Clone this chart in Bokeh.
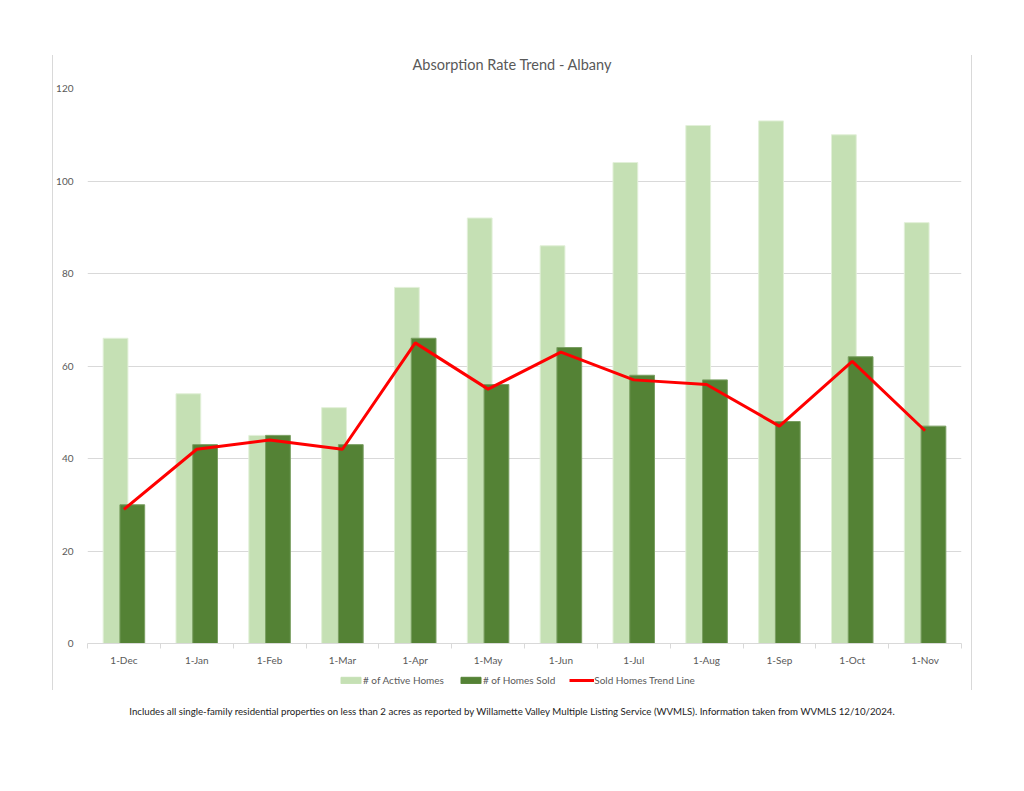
import numpy as np
from bokeh.plotting import figure
from bokeh.layouts import column
from bokeh.models import (ColumnDataSource, FixedTicker, Legend, LegendItem, Div, Range1d)
from bokeh.transform import dodge
from bokeh.embed import file_html
from bokeh.resources import INLINE

months = ["1-Dec", "1-Jan", "1-Feb", "1-Mar", "1-Apr", "1-May", "1-Jun",
          "1-Jul", "1-Aug", "1-Sep", "1-Oct", "1-Nov"]
active_homes = [66, 54, 45, 51, 77, 92, 86, 104, 112, 113, 110, 91]
homes_sold = [30, 43, 45, 43, 66, 56, 64, 58, 57, 48, 62, 47]
trend_line = [29, 42, 44, 42, 65, 55, 63, 57, 56, 47, 61, 46]
y_ticks = [0, 20, 40, 60, 80, 100, 120]

FONT = "Lato"
GRAY = "#595959"
LIGHT = "#c5e0b4"
DARK = "#548235"
RED = "#ff0000"
BORDER = {"border-left": "1px solid #d9d9d9", "border-right": "1px solid #d9d9d9",
          "box-sizing": "border-box"}

xpos = np.arange(len(months)) + 0.5
src = ColumnDataSource(dict(x=xpos, active=active_homes, sold=homes_sold, trend=trend_line))

# title strip
title_div = Div(text="Absorption Rate Trend - Albany", width=920, height=25,
                styles=dict(BORDER, **{"text-align": "center", "font-family": FONT,
                                       "font-size": "14.5px", "color": GRAY,
                                       "line-height": "17px", "padding-top": "1px"}))
title_div.margin = (55, 0, 0, 52)

p = figure(width=920, height=588, output_backend="svg", toolbar_location=None,
           title=None,
           x_range=Range1d(0, len(months)), y_range=Range1d(0, 120),
           min_border_left=32, min_border_right=12, min_border_top=8,
           min_border_bottom=24, background_fill_color="white",
           border_fill_color="white")
p.margin = (0, 0, 0, 52)
p.styles = BORDER
p.outline_line_color = None

bw = 0.34
r1 = p.vbar(x=dodge("x", -0.115, range=p.x_range), top="active", width=bw, bottom=0,
            source=src, fill_color=LIGHT, line_color="#e2f0d9", line_width=1)
r2 = p.vbar(x=dodge("x", 0.115, range=p.x_range), top="sold", width=bw, bottom=0,
            source=src, fill_color=DARK, line_color="#7a9f62", line_width=1)
r3 = p.line(x="x", y="trend", source=src, line_color=RED, line_width=3)

# axes
p.xaxis.ticker = FixedTicker(ticks=list(xpos), minor_ticks=list(range(len(months) + 1)))
p.xaxis.major_label_overrides = {float(v): m for v, m in zip(xpos, months)}
p.xaxis.major_tick_line_color = None
p.xaxis.minor_tick_line_color = "#d9d9d9"
p.xaxis.minor_tick_out = 5
p.xaxis.minor_tick_in = 0
p.xaxis.axis_line_color = "#d9d9d9"
p.xaxis.major_label_standoff = 4
p.yaxis.ticker = FixedTicker(ticks=y_ticks)
p.yaxis.axis_line_color = None
p.yaxis.major_tick_line_color = None
p.yaxis.minor_tick_line_color = None
p.yaxis.major_label_standoff = 8
for ax in (p.xaxis[0], p.yaxis[0]):
    ax.major_label_text_font = FONT
    ax.major_label_text_font_size = "10px"
    ax.major_label_text_color = GRAY

p.xgrid.grid_line_color = None
p.ygrid.grid_line_color = "#d9d9d9"
p.ygrid.grid_line_width = 1

# legend strip (separate small plot so the legend is not clipped by the frame)
lg = figure(width=920, height=22, output_backend="svg", toolbar_location=None,
            title=None, x_range=Range1d(0, 1), y_range=Range1d(0, 1), min_border=0,
            background_fill_color="white", border_fill_color="white")
lg.margin = (0, 0, 0, 52)
lg.styles = BORDER
lg.outline_line_color = None
lg.axis.visible = False
lg.grid.visible = False
# hidden legend-only renderers, styled like the chart series
l1 = lg.vbar(x=[0.5], top=[0.5], width=0.1, fill_color=LIGHT, line_color=LIGHT, visible=False)
l2 = lg.vbar(x=[0.5], top=[0.5], width=0.1, fill_color=DARK, line_color=DARK, visible=False)
l3 = lg.line(x=[0.4, 0.6], y=[0.5, 0.5], line_color=RED, line_width=3, visible=False)

legend = Legend(items=[LegendItem(label="# of Active Homes", renderers=[l1]),
                       LegendItem(label="# of Homes Sold", renderers=[l2]),
                       LegendItem(label="Sold Homes Trend Line", renderers=[l3])],
                orientation="horizontal", location=(251, 4), click_policy="none",
                glyph_width=25, glyph_height=8, label_standoff=0, spacing=14,
                padding=2, margin=0, border_line_color=None, background_fill_alpha=0,
                label_text_font=FONT, label_text_font_size="10px",
                label_text_color=GRAY, label_height=10)
lg.add_layout(legend, "center")

note = Div(text="Includes all single-family residential properties on less than 2 acres as reported by "
                "Willamette Valley Multiple Listing Service (WVMLS). Information taken from WVMLS 12/10/2024.",
           width=1024, styles={"text-align": "center", "font-family": FONT,
                               "font-size": "9.7px", "color": "#222222"})
note.margin = (15, 0, 0, 0)

layout = column(title_div, p, lg, note)
open("out.html", "w").write(file_html(layout, INLINE))
